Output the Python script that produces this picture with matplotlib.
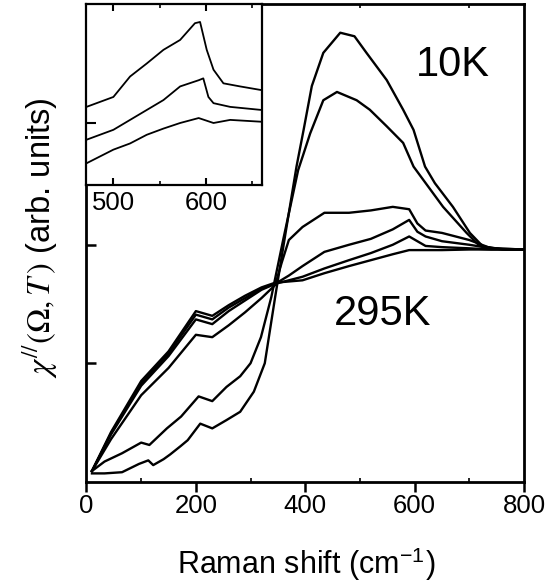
import matplotlib
matplotlib.use("Agg")
import matplotlib.pyplot as plt

plt.rcParams['font.family'] = ['Liberation Sans', 'DejaVu Sans']
plt.rcParams['mathtext.fontset'] = 'stix'

# main panel spectra (Raman shift in cm^-1, chi'' in arb. units)
a_x = [10, 33, 65, 96, 113, 122, 141, 153, 172, 185, 208, 230, 256, 281, 306, 326, 345, 364,
       384, 397, 412, 433, 464, 490, 512, 549, 579, 598, 619, 637, 670, 701, 725, 765, 800]
a_y = [0.07, 0.07, 0.08, 0.15, 0.18, 0.14, 0.19, 0.23, 0.30, 0.35, 0.49, 0.45, 0.52, 0.59, 0.76,
       1.00, 1.56, 2.10, 2.66, 2.97, 3.34, 3.62, 3.79, 3.76, 3.62, 3.39, 3.14, 2.97, 2.66, 2.52,
       2.32, 2.10, 1.985, 1.96, 1.96]

b_x = [10, 33, 65, 100, 115, 147, 173, 205, 230, 256, 281, 300, 319, 338, 360, 387, 397, 409,
       421, 433, 458, 494, 518, 549, 579, 598, 652, 695, 719, 760, 800]
b_y = [0.09, 0.17, 0.24, 0.33, 0.31, 0.45, 0.55, 0.72, 0.68, 0.80, 0.89, 1.00, 1.22, 1.56, 2.05,
       2.63, 2.77, 2.94, 3.08, 3.22, 3.29, 3.22, 3.14, 3.00, 2.86, 2.66, 2.32, 2.10, 1.99, 1.96, 1.96]

c_x = [10, 45, 100, 150, 200, 230, 260, 290, 320, 345, 357, 370, 395, 435, 480, 520, 560, 590,
       605, 620, 650, 700, 740, 800]
c_y = [0.09, 0.36, 0.73, 0.96, 1.24, 1.22, 1.32, 1.43, 1.55, 1.66, 1.85, 2.04, 2.15, 2.27, 2.27,
       2.29, 2.32, 2.30, 2.18, 2.12, 2.10, 2.04, 1.97, 1.96]

bundle_x = [10, 45, 100, 150, 200, 230, 260, 290, 320, 345, 370, 395, 435, 480, 520, 560, 590,
            605, 620, 650, 700, 740, 800]
d_y = [0.09, 0.40, 0.81, 1.06, 1.37, 1.33, 1.44, 1.53, 1.62, 1.67, 1.74, 1.82, 1.94, 2.00, 2.05,
       2.13, 2.21, 2.11, 2.07, 2.03, 2.00, 1.97, 1.96]
e_y = [0.09, 0.41, 0.83, 1.08, 1.41, 1.37, 1.47, 1.55, 1.63, 1.67, 1.70, 1.73, 1.80, 1.87, 1.93,
       2.00, 2.07, 2.03, 1.99, 1.98, 1.97, 1.96, 1.96]
f_y = [0.09, 0.42, 0.85, 1.10, 1.44, 1.40, 1.49, 1.57, 1.64, 1.68, 1.69, 1.70, 1.76, 1.82, 1.87,
       1.92, 1.955, 1.955, 1.955, 1.955, 1.96, 1.96, 1.96]

# inset (zoom on the 600 cm^-1 feature)
i1_x = [471, 500, 518, 536, 554, 572, 588, 593.5, 600.7, 608, 618.7, 636.7, 660]
i1_y = [1.26, 1.42, 1.75, 1.96, 2.18, 2.34, 2.61, 2.63, 2.18, 1.86, 1.64, 1.59, 1.53]
i2_x = [471, 500, 518, 536, 554, 572, 592, 597, 602.5, 608, 626, 660]
i2_y = [0.73, 0.89, 1.05, 1.21, 1.37, 1.59, 1.69, 1.72, 1.42, 1.32, 1.26, 1.21]
i3_x = [471, 500, 518, 536, 554, 572, 592, 608, 626, 660]
i3_y = [0.35, 0.57, 0.67, 0.81, 0.91, 1.00, 1.08, 1.00, 1.05, 1.02]

fig = plt.figure(figsize=(5.45, 5.88), dpi=100)
ax = fig.add_axes([0.1587, 0.1808, 0.8028, 0.8119])

for xs, ys in [(a_x, a_y), (b_x, b_y), (c_x, c_y), (bundle_x, d_y), (bundle_x, e_y), (bundle_x, f_y)]:
    ax.plot(xs, ys, color='black', lw=1.7)

ax.set_xlim(0, 800)
ax.set_ylim(0, 4.03)
ax.set_xticks([0, 200, 400, 600, 800])
ax.set_xticks([100, 300, 500, 700], minor=True)
ax.set_yticks([1, 2, 3])
ax.set_yticklabels([])
ax.tick_params(axis='x', which='major', direction='out', length=7, width=1.8,
               labelsize=18.5, pad=2)
ax.tick_params(axis='x', which='minor', direction='in', length=3, width=1.2, top=True)
ax.tick_params(axis='y', direction='in', length=7, width=1.8)
for s in ax.spines.values():
    s.set_linewidth(2.0)

ax.text(670, 3.52, '10K', fontsize=30, ha='center', va='center')
ax.text(542, 1.416, '295K', fontsize=30, ha='center', va='center')

fig.text(306 / 545, 1 - 564 / 588, r'Raman shift (cm$^{\mathregular{-1}}$)',
         fontsize=22, ha='center', va='center')
fig.text(40 / 545, 1 - 238 / 588, r'$\chi^{//}(\Omega,T\,)$ (arb. units)',
         fontsize=23.5, ha='center', va='center', rotation=90)

ins = fig.add_axes([0.1587, 0.6854, 0.3215, 0.3073])
ins.set_facecolor('white')
for xs, ys in [(i1_x, i1_y), (i2_x, i2_y), (i3_x, i3_y)]:
    ins.plot(xs, ys, color='black', lw=1.3)
ins.set_xlim(471, 660)
ins.set_ylim(0, 2.915)
ins.set_xticks([500, 600])
ins.set_xticks([550, 650], minor=True)
ins.set_yticks([1])
ins.set_yticklabels([])
ins.tick_params(axis='x', which='major', direction='in', length=5, width=1.5,
                labelsize=18.5, pad=4, top=True)
ins.tick_params(axis='x', which='minor', direction='in', length=3, width=1.2, top=True)
ins.tick_params(axis='y', direction='in', length=7, width=1.5)
for s in ins.spines.values():
    s.set_linewidth(1.6)

fig.savefig('out.png', dpi=100)
